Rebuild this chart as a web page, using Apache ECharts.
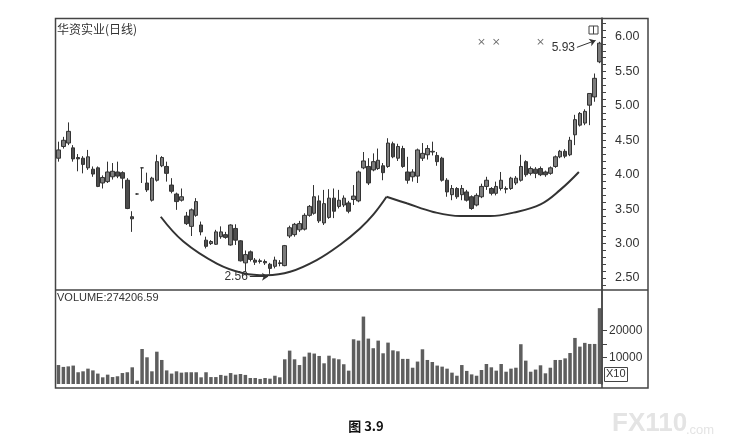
<!DOCTYPE html>
<html>
<head>
<meta charset="utf-8">
<script src="https://cdn.jsdelivr.net/npm/echarts@6/dist/echarts.min.js"></script>
<style>html,body{margin:0;padding:0;background:#fff;}#c{width:732px;height:448px;}</style>
</head>
<body>
<div id="c"></div>
<script>
// ---- data: [open, close, low, high] per trading day ----
const ohlc = [
[4.24,4.36,4.19,4.48],[4.41,4.50,4.38,4.55],[4.46,4.63,4.43,4.76],[4.39,4.23,4.19,4.43],[4.25,4.23,4.05,4.30],
[4.24,4.15,4.02,4.27],[4.10,4.26,4.07,4.36],[4.08,4.01,3.97,4.12],[4.10,3.83,3.82,4.12],[3.88,3.96,3.80,3.99],
[3.90,4.04,3.88,4.19],[3.97,4.05,3.93,4.17],[4.04,3.98,3.95,4.19],[4.03,3.95,3.80,4.05],[3.92,3.51,3.50,3.95],
[3.39,3.36,3.17,3.47],[3.72,3.72,3.71,3.73],[4.10,4.10,3.88,4.10],[3.88,3.78,3.75,4.03],[3.63,3.95,3.61,3.97],
[3.92,4.19,3.90,4.29],[4.13,4.25,4.11,4.27],[4.12,4.02,3.90,4.19],[3.85,3.76,3.73,3.95],[3.72,3.61,3.49,3.74],
[3.63,3.68,3.61,3.80],[3.40,3.29,3.27,3.46],[3.25,3.49,3.11,3.51],[3.41,3.61,3.39,3.66],[3.27,3.17,3.12,3.32],
[3.05,2.96,2.93,3.10],[3.00,3.03,2.98,3.05],[2.99,3.17,2.98,3.20],[3.10,3.17,3.07,3.25],[3.13,3.09,3.07,3.17],
[2.98,3.27,2.97,3.28],[3.22,3.05,2.98,3.28],[3.04,2.75,2.74,3.05],[2.72,2.84,2.59,2.90],[2.88,2.77,2.74,2.90],
[2.76,2.73,2.69,2.79],[2.75,2.74,2.71,2.78],[2.74,2.72,2.69,2.77],[2.70,2.64,2.56,2.72],[2.67,2.76,2.64,2.81],
[2.72,2.71,2.67,2.76],[2.68,2.97,2.67,2.98],[3.11,3.23,3.08,3.26],[3.13,3.28,3.10,3.30],[3.20,3.29,3.17,3.33],
[3.21,3.41,3.19,3.44],[3.41,3.54,3.39,3.56],[3.44,3.68,3.42,3.85],[3.62,3.33,3.30,3.70],[3.30,3.58,3.27,3.78],
[3.38,3.66,3.36,3.79],[3.66,3.47,3.37,3.80],[3.54,3.63,3.51,3.78],[3.56,3.66,3.53,3.70],[3.59,3.47,3.44,3.62],
[3.64,3.69,3.56,3.85],[3.62,4.04,3.60,4.06],[4.10,4.20,4.08,4.33],[4.12,3.88,3.85,4.24],[4.07,4.19,4.05,4.31],
[4.09,4.21,4.07,4.38],[4.13,4.03,3.92,4.17],[4.12,4.46,4.10,4.53],[4.45,4.26,4.24,4.48],[4.24,4.41,4.20,4.45],
[4.38,4.12,4.10,4.42],[4.04,3.92,3.87,4.26],[3.97,4.04,3.90,4.08],[3.98,4.36,3.88,4.38],[4.24,4.31,4.20,4.46],
[4.29,4.38,4.22,4.43],[4.33,4.34,4.28,4.48],[4.28,4.19,4.13,4.33],[4.24,3.92,3.90,4.26],[3.92,3.75,3.68,3.95],
[3.71,3.80,3.63,3.85],[3.80,3.68,3.65,3.82],[3.71,3.80,3.63,3.85],[3.75,3.63,3.61,3.78],[3.68,3.51,3.49,3.70],
[3.56,3.70,3.54,3.73],[3.68,3.83,3.66,3.87],[3.83,3.92,3.78,3.97],[3.80,3.73,3.70,3.82],[3.73,3.83,3.70,3.90],
[3.80,3.92,3.77,4.04],[3.80,3.79,3.73,3.83],[3.80,3.95,3.78,3.97],[3.88,3.95,3.85,3.98],[3.92,4.12,3.90,4.29],
[4.19,4.00,3.97,4.21],[4.02,4.09,3.99,4.12],[4.08,4.02,3.95,4.11],[4.09,4.00,3.98,4.12],[4.04,4.00,3.97,4.06],
[4.02,4.10,4.00,4.12],[4.12,4.26,4.10,4.28],[4.26,4.34,4.24,4.36],[4.34,4.27,4.24,4.37],[4.29,4.50,4.27,4.55],
[4.58,4.80,4.43,4.87],[4.72,4.89,4.70,4.91],[4.75,4.92,4.72,4.95],[5.01,5.18,4.72,5.18],[5.13,5.40,5.06,5.47],
[5.64,5.91,5.62,5.93]
];
const volumes = [
7100,6400,6600,6900,4400,4750,5750,5100,3900,2500,
3500,2600,2900,4100,4400,6250,1250,13100,10000,4750,
12100,9000,5100,3900,4750,4250,4400,4400,4400,2500,
4400,2600,2600,3400,3100,4100,3500,3750,3400,2250,
2250,1900,2250,2000,3100,2500,9250,12500,9250,7100,
10250,11750,11400,10500,7750,10600,9600,9250,7400,5000,
16750,16250,25250,17000,13400,16250,11500,15500,12600,12250,
9400,9400,6100,8400,13000,9000,8250,6900,6500,5750,
4250,3100,7100,4900,3600,3100,5250,7500,6250,5000,
7500,4600,5750,6100,14900,8750,4600,5400,7000,4000,
6100,9000,9000,9600,11600,17250,14000,15400,15000,15000,
28400
];
const days = ohlc.map((_, i) => 'D' + (i + 1));
const priceLabels = [2.5, 3.0, 3.5, 4.0, 4.5, 5.0, 5.5, 6.0];
const priceTicks = [2.4,2.5,2.6,2.7,2.8,2.9,3.0,3.1,3.2,3.3,3.4,3.5,3.6,3.7,3.8,3.9,4.0,4.1,4.2,4.3,4.4,4.5,4.6,4.7,4.8,4.9,5.0,5.1,5.2,5.3,5.4,5.5,5.6,5.7,5.8,5.9,6.0,6.1,6.2];
const volumeTicks = [10000, 15000, 20000];
const volumeLabels = [10000, 20000];
// hand-drawn cup curves, [day index, price]
const cupLeft = [[20.8,3.39],[25.4,3.03],[32.2,2.71],[37.6,2.57],[42.3,2.54],[47.1,2.59],[52.5,2.76],[57.2,2.98],[61.3,3.22],[64.0,3.42],[66.7,3.68]];
const cupRight = [[66.7,3.68],[70.8,3.585],[76.2,3.46],[81.7,3.40],[87.8,3.40],[92.5,3.45],[98.0,3.57],[102.0,3.78],[105.8,4.04]];
const signalMarks = [[86,5.93],[89,5.93],[98,5.93]];
const lowNote = {text:'2.56', from:[38.9,2.52], to:[42.6,2.52]};
const highNote = {text:'5.93', from:[105.4,5.85], to:[109.2,5.95]};

const LAT = '"Liberation Sans", Arial, sans-serif';
const CJK = '"Noto Sans CJK SC", sans-serif';
const chart = echarts.init(document.getElementById('c'), null, {renderer:'canvas'});
const frame = '#444';
chart.setOption({
  animation: false,
  backgroundColor: '#fff',
  grid: [
    {left:56, top:18, width:546, height:272},
    {left:56, top:290, width:546, height:94}
  ],
  xAxis: [
    {type:'category', gridIndex:0, data:days, boundaryGap:true, show:false},
    {type:'value', gridIndex:0, min:-0.5, max:ohlc.length - 0.5, show:false},
    {type:'category', gridIndex:1, data:days, boundaryGap:true, show:false}
  ],
  yAxis: [
    {type:'value', gridIndex:0, position:'right', min:2.326, max:6.276,
     axisLine:{show:true, onZero:false, lineStyle:{color:frame, width:1.5}},
     axisTick:{show:true, customValues:priceTicks, length:4, lineStyle:{color:frame}},
     axisLabel:{customValues:priceLabels, formatter:v => v.toFixed(2), color:'#333', fontSize:12.5, margin:13, fontFamily:LAT},
     splitLine:{show:false}},
    {type:'value', gridIndex:1, position:'right', min:0, max:35200,
     axisLine:{show:true, onZero:false, lineStyle:{color:frame, width:1.5}},
     axisTick:{show:true, customValues:volumeTicks, length:5, lineStyle:{color:frame}},
     axisLabel:{customValues:volumeLabels, formatter:v => String(v), color:'#333', fontSize:12, margin:7, fontFamily:LAT},
     splitLine:{show:false}}
  ],
  series: [
    {type:'candlestick', xAxisIndex:0, yAxisIndex:0, data:ohlc, barWidth:4,
     itemStyle:{color:'#7c7c7c', color0:'#4c4c4c', borderColor:'#333', borderColor0:'#333', borderWidth:1}},
    {type:'line', xAxisIndex:1, yAxisIndex:0, data:cupLeft, smooth:0.4, symbol:'none',
     lineStyle:{color:'#333', width:2},
     markLine:{silent:true, symbol:['none','arrow'], symbolSize:6,
       lineStyle:{color:'#333', width:1, type:'solid'},
       label:{show:true, position:'start', distance:2, color:'#333', fontSize:12, fontFamily:LAT},
       data:[
         [{coord:lowNote.from, label:{formatter:lowNote.text}}, {coord:lowNote.to}],
         [{coord:highNote.from, label:{formatter:highNote.text}}, {coord:highNote.to}]
       ]}},
    {type:'line', xAxisIndex:1, yAxisIndex:0, data:cupRight, smooth:0.4, symbol:'none',
     lineStyle:{color:'#333', width:2}},
    {type:'scatter', xAxisIndex:0, yAxisIndex:0, data:signalMarks, symbolSize:6,
     symbol:'path://M0,1L1,0L5,4L9,0L10,1L6,5L10,9L9,10L5,6L1,10L0,9L4,5Z',
     itemStyle:{color:'#444'}},
    {type:'bar', xAxisIndex:2, yAxisIndex:1, data:volumes, barWidth:3.5,
     itemStyle:{color:'#5e5e5e'}}
  ],
  graphic: [
    {type:'rect', shape:{x:55.5, y:18.5, width:592.5, height:369.5}, style:{fill:'none', stroke:frame, lineWidth:1.5}, z:10},
    {type:'line', shape:{x1:55.5, y1:290, x2:648, y2:290}, style:{stroke:frame, lineWidth:1.5}, z:10},
    {type:'line', shape:{x1:602, y1:18.5, x2:602, y2:388}, style:{stroke:frame, lineWidth:1.5}, z:10},
    {type:'rect', shape:{x:589, y:26, width:9, height:8}, style:{fill:'none', stroke:'#444', lineWidth:1}, z:10},
    {type:'line', shape:{x1:593.5, y1:26, x2:593.5, y2:34}, style:{stroke:'#444', lineWidth:1}, z:10},
    {type:'rect', shape:{x:604.5, y:367.5, width:23, height:14}, style:{fill:'none', stroke:'#444', lineWidth:1}, z:10},
    {type:'text', x:606, y:368.5, style:{text:'X10', fill:'#333', font:'11px ' + LAT}, z:10},
    {type:'text', x:57, y:23, style:{text:'华资实业(日线)', fill:'#333', font:'12px ' + CJK}, z:10},
    {type:'text', x:57, y:292, style:{text:'VOLUME:274206.59', fill:'#333', font:'11px ' + LAT}, z:10},
    {type:'text', x:366, y:426, style:{text:'图 3.9', fill:'#111', font:'bold 13px ' + CJK, textAlign:'center', textVerticalAlign:'middle'}, z:10},
    {type:'text', x:612, y:411, style:{text:'FX110', fill:'#e4e4e4', font:'bold 26px ' + LAT}, z:1},
    {type:'text', x:686, y:424, style:{text:'.com', fill:'#e4e4e4', font:'13px ' + LAT}, z:1}
  ]
});
</script>
</body>
</html>
